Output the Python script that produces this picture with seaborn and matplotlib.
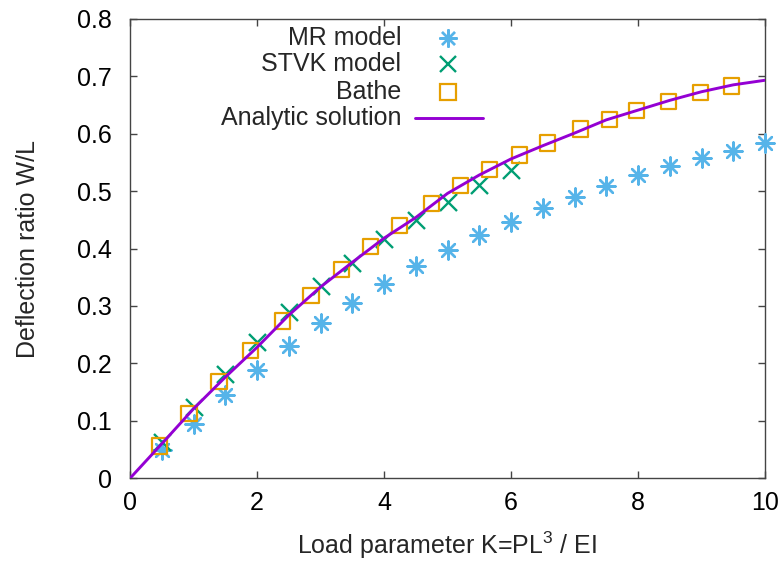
import matplotlib
matplotlib.use("Agg")
import matplotlib.pyplot as plt
import pandas as pd
import seaborn as sns

# ---- data ----
mr_k = [0.5, 1.0, 1.5, 2.0, 2.5, 3.0, 3.5, 4.0, 4.5, 5.0,
        5.5, 6.0, 6.5, 7.0, 7.5, 8.0, 8.5, 9.0, 9.5, 10.0]
mr_w = [0.049, 0.095, 0.145, 0.189, 0.231, 0.270, 0.306, 0.339, 0.369, 0.397,
        0.423, 0.446, 0.470, 0.490, 0.509, 0.528, 0.544, 0.558, 0.570, 0.584]

stvk_k = [0.5, 1.0, 1.5, 2.0, 2.5, 3.0, 3.5, 4.0, 4.5, 5.0, 5.5, 6.0]
stvk_w = [0.063, 0.125, 0.182, 0.237, 0.289, 0.334, 0.375, 0.417, 0.450, 0.481, 0.511, 0.537]

bathe_k = [0.47, 0.93, 1.40, 1.90, 2.40, 2.85, 3.33, 3.79, 4.24, 4.75,
           5.20, 5.66, 6.13, 6.58, 7.09, 7.55, 7.98, 8.48, 8.98, 9.47]
bathe_w = [0.056, 0.113, 0.168, 0.222, 0.274, 0.318, 0.364, 0.404, 0.440, 0.478,
           0.510, 0.537, 0.563, 0.584, 0.608, 0.625, 0.640, 0.656, 0.672, 0.683]

analytic_k = [0, 0.5, 1.0, 1.5, 2.0, 2.5, 3.0, 3.5, 4.0, 4.5, 5.0,
              5.5, 6.0, 6.5, 7.0, 7.5, 8.0, 8.5, 9.0, 9.5, 10.0]
analytic_w = [0, 0.060, 0.121, 0.176, 0.228, 0.284, 0.333, 0.376, 0.418, 0.454, 0.496,
              0.528, 0.556, 0.579, 0.601, 0.624, 0.641, 0.658, 0.673, 0.685, 0.693]

x_ticks = [0, 2, 4, 6, 8, 10]
y_ticks = [0, 0.1, 0.2, 0.3, 0.4, 0.5, 0.6, 0.7, 0.8]
y_tick_labels = ["0", "0.1", "0.2", "0.3", "0.4", "0.5", "0.6", "0.7", "0.8"]

labels = ["MR model", "STVK model", "Bathe", "Analytic solution"]
c_mr, c_stvk, c_bathe, c_an = "#56b4e9", "#009e73", "#e69f00", "#9400d3"

mr = pd.DataFrame({"K": mr_k, "W": mr_w})
stvk = pd.DataFrame({"K": stvk_k, "W": stvk_w})
bathe = pd.DataFrame({"K": bathe_k, "W": bathe_w})
an = pd.DataFrame({"K": analytic_k, "W": analytic_w})

sns.set_style("ticks")
plt.rcParams["font.family"] = ["Liberation Sans", "DejaVu Sans"]
plt.rcParams["mathtext.fontset"] = "custom"
plt.rcParams["mathtext.rm"] = "Liberation Sans"

FS = 18
fig = plt.figure(figsize=(7.81, 5.63), dpi=100)
ax = fig.add_axes([130 / 781, 1 - 478.3 / 563, 635 / 781, 459.5 / 563])

asterisk = (8, 2, 0)
sns.scatterplot(data=mr, x="K", y="W", ax=ax, marker=asterisk, color=c_mr,
                s=170, linewidth=1.7, legend=False, clip_on=False, zorder=3)
sns.scatterplot(data=stvk, x="K", y="W", ax=ax, marker="x", color=c_stvk,
                s=150, linewidth=1.7, legend=False, clip_on=False, zorder=4)
sns.scatterplot(data=bathe, x="K", y="W", ax=ax, marker="s", color=c_bathe,
                s=121, linewidth=1.6, legend=False, clip_on=False, zorder=5)
ax.collections[-1].set_facecolor("none")
ax.collections[-1].set_edgecolor(c_bathe)
sns.lineplot(data=an, x="K", y="W", ax=ax, color=c_an, linewidth=2.1,
             legend=False, zorder=6)

ax.set_xlim(0, 10)
ax.set_ylim(0, 0.8)
ax.set_xticks(x_ticks)
ax.set_xticklabels([str(t) for t in x_ticks])
ax.set_yticks(y_ticks)
ax.set_yticklabels(y_tick_labels)
ax.tick_params(direction="in", length=5, width=1, color="#444444",
               labelsize=FS, top=True, right=True, labelcolor="black")
ax.tick_params(axis="x", pad=9.5)
ax.tick_params(axis="y", pad=13)
for sp in ax.spines.values():
    sp.set_color("#444444")
    sp.set_linewidth(1)
    sp.set_visible(True)

ax.set_xlabel("Load parameter K=PL$^3$ / EI", fontsize=FS, labelpad=10)
ax.set_ylabel("Deflection ratio W/L", fontsize=FS, labelpad=27)

# gnuplot-style key: right-aligned text, sample to the right
tx, mx = 0.4268, 0.5008
rows = [0.959, 0.901, 0.841, 0.784]
for lab, yy in zip(labels, rows):
    ax.text(tx, yy, lab, transform=ax.transAxes, ha="right", va="center", fontsize=FS)
ax.plot([mx], [rows[0]], transform=ax.transAxes, marker=asterisk, color=c_mr,
        markersize=13, markeredgewidth=1.7, linestyle="none", clip_on=False)
ax.plot([mx], [rows[1]], transform=ax.transAxes, marker="x", color=c_stvk,
        markersize=12.2, markeredgewidth=1.7, linestyle="none", clip_on=False)
ax.plot([mx], [rows[2]], transform=ax.transAxes, marker="s", markerfacecolor="none",
        markeredgecolor=c_bathe, markersize=11, markeredgewidth=1.6,
        linestyle="none", clip_on=False)
ax.plot([0.4488, 0.5559], [rows[3], rows[3]], transform=ax.transAxes,
        color=c_an, linewidth=2.1, clip_on=False)

fig.savefig("out.png", dpi=100)
